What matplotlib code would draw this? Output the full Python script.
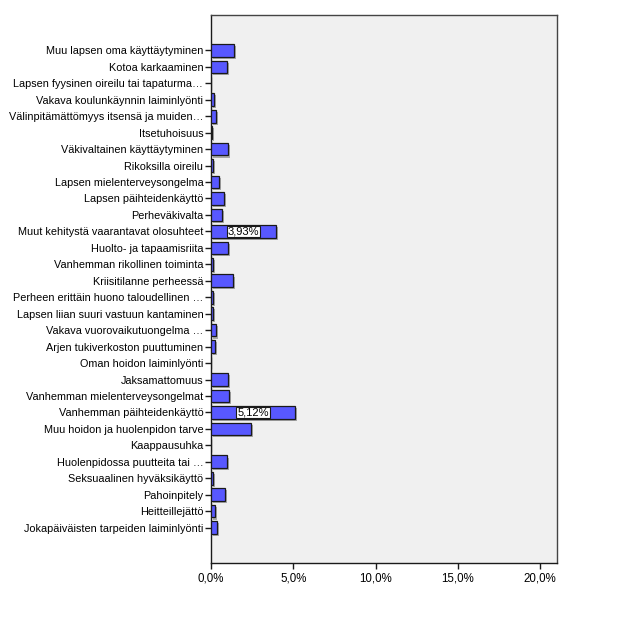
import numpy as np
import matplotlib; matplotlib.use('Agg')
import matplotlib.pyplot as plt
import matplotlib.patheffects as pe

plt.rcParams['font.family'] = ['Liberation Sans', 'DejaVu Sans']

categories = ['Muu lapsen oma käyttäytyminen', 'Kotoa karkaaminen',
              'Lapsen fyysinen oireilu tai tapaturma…', 'Vakava koulunkäynnin laiminlyönti',
              'Välinpitämättömyys itsensä ja muiden…', 'Itsetuhoisuus',
              'Väkivaltainen käyttäytyminen', 'Rikoksilla oireilu',
              'Lapsen mielenterveysongelma', 'Lapsen päihteidenkäyttö', 'Perheväkivalta',
              'Muut kehitystä vaarantavat olosuhteet', 'Huolto- ja tapaamisriita',
              'Vanhemman rikollinen toiminta', 'Kriisitilanne perheessä',
              'Perheen erittäin huono taloudellinen …', 'Lapsen liian suuri vastuun kantaminen',
              'Vakava vuorovaikutuongelma …', 'Arjen tukiverkoston puuttuminen',
              'Oman hoidon laiminlyönti', 'Jaksamattomuus', 'Vanhemman mielenterveysongelmat',
              'Vanhemman päihteidenkäyttö', 'Muu hoidon ja huolenpidon tarve', 'Kaappausuhka',
              'Huolenpidossa puutteita tai …', 'Seksuaalinen hyväksikäyttö', 'Pahoinpitely',
              'Heitteillejättö', 'Jokapäiväisten tarpeiden laiminlyönti']
values = [1.40, 0.97, 0.0, 0.20, 0.32, 0.07, 1.05, 0.10, 0.47, 0.81, 0.69,
          3.93, 1.01, 0.10, 1.36, 0.10, 0.10, 0.32, 0.26, 0.0, 1.05, 1.07,
          5.12, 2.45, 0.0, 0.97, 0.10, 0.87, 0.26, 0.39]
labelled = ['Muut kehitystä vaarantavat olosuhteet', 'Vanhemman päihteidenkäyttö']
xticks = [0, 5, 10, 15, 20]

fig = plt.figure(figsize=(6.27, 6.33), dpi=100)
ax = fig.add_axes([211/627, 1-563/633, (557-211)/627, (563-15)/633])
ax.set_facecolor('#f0f0f0')
y = np.arange(len(categories))
bars = ax.barh(y, values, height=0.77, color='#5858ff', edgecolor='#1a1a1a', lw=0.9, zorder=3)
for b in bars:
    b.set_path_effects([pe.SimplePatchShadow(offset=(1.5, -1.5), shadow_rgbFace='#888888', alpha=0.7), pe.Normal()])
for i, (c, v) in enumerate(zip(categories, values)):
    if c in labelled:
        ax.text(v/2, i, f"{v:.2f}%".replace('.', ','), ha='center', va='center', fontsize=8, zorder=5,
                bbox=dict(boxstyle='square,pad=0.08', fc='white', ec='#1a1a1a', lw=0.8))
ax.set_yticks(y); ax.set_yticklabels(categories, fontsize=7.8)
ax.set_ylim(len(categories)-1+2.15, -2.15)
ax.set_xlim(0, 21.03)
ax.set_xticks(xticks); ax.set_xticklabels([f"{t:.1f}%".replace('.', ',') for t in xticks], fontsize=8.3)
ax.tick_params(axis='both', direction='out', length=4, width=1, color='#1a1a1a', pad=1.5)
ax.tick_params(axis='x', pad=3)
for s in ax.spines.values():
    s.set_color('#444444'); s.set_linewidth(1)
ax.spines['left'].set_color('#1a1a1a'); ax.spines['bottom'].set_color('#1a1a1a')
fig.savefig('out.png', dpi=100)
